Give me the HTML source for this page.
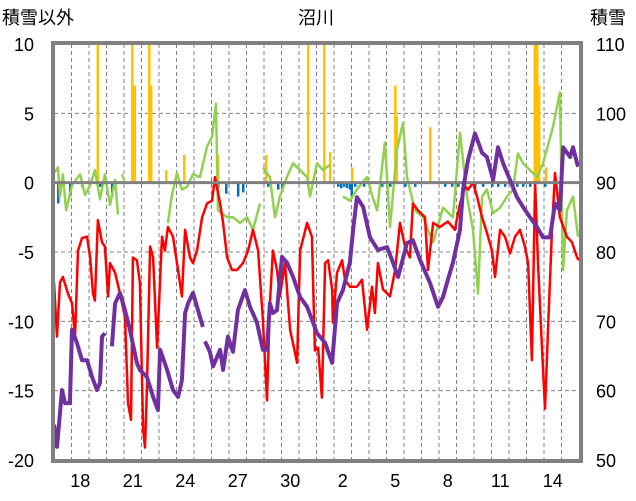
<!DOCTYPE html>
<html><head><meta charset="utf-8"><style>
body{margin:0;background:#fff;}
svg{display:block;font-family:"Liberation Sans","Noto Sans CJK JP",sans-serif;}
</style></head><body>
<svg id="c" width="636" height="501"></svg>
<script>
const xTickLabels=["18","21","24","27","30","2","5","8","11","14"];
const xTickDays=[1,4,7,10,13,16,19,22,25,28];
const leftTicks=[10,5,0,-5,-10,-15,-20];
const rightTicks=[110,100,90,80,70,60,50];
const snowT=[0,.17,.46,.63,.91,1.03,1.31,1.6,1.89,2.17,2.46,2.63,2.74,2.91,3.0,3.31,3.49,3.77,4.06,4.34,4.74,4.91,5.31,5.66,5.94,6.06,6.46,6.8,7.09,7.31,7.49,7.66,7.94,8.23,8.51,8.57,8.63,8.91,9.09,9.49,9.66,9.94,10.23,10.51,10.91,11.2,11.6,11.94,12.17,12.34,12.51,12.74,13.03,13.31,13.66,14.06,14.46,15.03,15.49,15.89,16.17,16.51,16.91,17.09,17.31,17.66,18.06,18.51,19.03,19.31,19.66,20.17,20.51,20.91,21.49,21.94,22.23,22.51,22.8,23.2,23.37,23.66,24.06,24.46,24.74,25.09,25.37,25.66,26.06,26.46,26.8,27.2,27.6,27.94,28.34,28.63,28.91,29.09,29.49,29.66,29.94];
const snowV=[55.1,51.9,60.1,58.2,58.2,68.8,66.9,64.4,64.4,62.0,60.1,61.1,67.8,68.3,null,66.4,72.6,74.1,71.6,68.8,64.0,63.0,62.0,59.1,57.2,65.9,63.0,60.1,59.1,61.5,71.2,72.6,74.1,71.6,69.2,null,67.1,65.6,63.5,65.9,63.0,67.8,65.6,71.6,74.5,72.1,69.8,65.9,65.9,72.6,71.2,71.6,79.3,78.5,76.4,73.5,72.1,68.3,66.9,64.0,72.6,74.5,78.5,83.2,87.9,86.5,82.1,80.3,80.7,78.9,76.4,81.3,81.7,78.9,75.5,72.1,73.5,76.0,78.5,83.2,89.0,93.3,97.1,94.3,93.7,90.4,95.1,92.8,90.4,87.9,86.5,85.0,83.6,82.1,82.1,87.0,86.0,95.1,93.7,95.1,92.3];
const redT=[0,.17,.34,.51,.8,1.03,1.2,1.37,1.6,1.89,2.06,2.23,2.34,2.51,2.74,2.91,3.09,3.2,3.49,3.77,4.06,4.23,4.4,4.51,4.74,4.91,5.09,5.2,5.31,5.49,5.66,5.89,6.17,6.34,6.51,6.8,7.03,7.31,7.49,7.77,7.94,8.17,8.46,8.74,9.03,9.2,9.49,9.66,9.89,10.17,10.46,10.8,11.09,11.37,11.66,11.94,12.17,12.34,12.51,12.74,12.91,13.2,13.49,13.89,14.06,14.46,14.74,14.91,15.09,15.31,15.49,15.66,15.89,15.94,16.17,16.46,16.63,16.91,17.31,17.6,17.89,18.17,18.34,18.51,18.8,19.2,19.49,19.77,20.06,20.34,20.51,20.8,21.2,21.37,21.66,22.06,22.51,22.91,23.2,23.49,23.66,23.94,24.17,24.46,24.74,25.03,25.2,25.49,25.77,26.06,26.34,26.63,26.91,27.09,27.31,27.49,27.66,27.89,28.06,28.23,28.46,28.63,28.91,29.31,29.6,29.89,30.0];
const redV=[-7.2,-11.1,-7.2,-6.8,-8.0,-8.7,-11.1,-4.9,-4.0,-3.9,-5.4,-8.0,-8.5,-2.7,-4.3,-4.6,-8.2,-5.8,-6.5,-8.0,-9.7,-15.9,-17.1,-5.4,-5.6,-7.2,-17.8,-19.1,-14.9,-4.6,-5.4,-11.9,-3.9,-4.9,-3.2,-3.9,-5.8,-8.2,-3.4,-5.4,-5.8,-4.9,-2.5,-1.5,-1.3,0.4,-1.5,-2.9,-5.4,-6.3,-6.3,-5.8,-4.9,-3.4,-4.9,-9.9,-15.7,-8.7,-4.9,-6.3,-8.2,-5.8,-10.6,-13.0,-4.9,-2.9,-3.9,-12.1,-11.9,-15.5,-5.8,-5.6,-7.7,-10.1,-6.5,-5.6,-7.0,-7.5,-7.5,-7.0,-10.6,-7.5,-9.4,-5.8,-7.7,-8.2,-6.3,-2.9,-4.6,-5.4,-1.5,-2.0,-2.5,-6.3,-2.9,-3.2,-2.8,-3.4,-1.5,-0.3,-0.5,0.0,-1.0,-2.5,-3.6,-4.9,-6.8,-3.4,-3.9,-5.1,-3.9,-3.4,-4.6,-5.8,-12.8,0.0,-5.8,-12.1,-16.3,-10.6,-3.4,0.7,-2.5,-3.9,-4.3,-5.4,-5.6];
const greenT=[0,.23,.34,.51,.69,1.03,1.49,1.77,2.06,2.34,2.63,2.91,3.2,3.49,3.66,3.8,3.89,4.0,4.1,6.51,6.74,7.03,7.31,7.6,7.94,8.34,8.74,9.03,9.26,9.37,9.89,10.23,10.63,11.03,11.37,11.77,11.85,11.94,12.34,12.63,12.91,13.31,13.66,14.06,14.46,14.63,15.03,15.37,15.77,15.9,16.51,16.91,17.31,17.89,18.17,18.46,18.91,19.2,19.6,19.94,20.17,20.63,21.09,21.66,22.23,22.8,23.2,23.6,23.94,24.23,24.46,24.74,25.09,25.49,25.89,26.23,26.51,26.8,27.2,27.6,27.94,28.51,28.91,29.09,29.31,29.66,29.94];
const greenV=[0.7,1.1,-1.0,0.6,-2.0,-0.2,0.6,-0.9,-0.2,0.9,-1.2,0.6,-1.6,0.2,-2.3,null,0.6,0.2,null,-2.9,-0.9,0.7,-0.5,-0.3,0.6,0.4,2.6,3.3,5.7,-2.0,-2.5,-2.5,-2.9,-2.5,-3.4,-1.5,null,1.1,0.4,-2.5,-1.0,0.4,1.4,0.9,0.4,-1.0,1.4,0.9,1.3,null,-1.0,-1.3,-0.5,0.4,-0.9,-2.0,2.9,-3.2,2.4,4.3,0.4,-2.0,-2.5,-4.3,-1.8,-2.5,3.6,-1.0,-3.4,-8.0,-1.0,-0.5,-2.2,-1.8,-1.0,-0.5,2.1,1.4,0.9,0.4,1.4,4.0,6.5,-6.3,-2.0,-1.0,-3.9];
const yellowT=[2.49,4.46,4.6,5.43,5.54,6.4,7.43,9.37,12.11,14.51,15.43,15.77,17.03,19.49,19.57,21.49,27.46,27.6,27.71,28.11];
const yellowV=[10,10,7,10,7,0.9,2,2,2,10,10,2.2,1.1,7,4.8,4,10,10,7,1.1];
const blueT=[0.23,0.91,1.6,2.63,3.31,9.37,9.83,10.51,10.8,12.23,12.8,13.03,16.23,16.4,16.57,16.74,16.91,17.0,17.2,17.71,18.74,19.2,20.06,20.63,22.34,22.74,23.09,23.49,24.06,24.51,25.03,25.37,25.77,26.46,26.8,27.2,28.06];
const blueV=[-1.5,-1.0,-0.3,-0.3,-1.0,-0.4,-0.8,-1.0,-0.7,-0.3,-0.5,-0.7,-0.3,-0.4,-0.3,-0.4,-0.5,-1.0,-0.3,-0.3,-0.3,-0.3,-0.3,-0.3,-0.3,-0.3,-0.3,-0.3,-0.4,-0.3,-0.3,-0.3,-0.3,-0.3,-0.3,-0.3,-0.3];

const NS="http://www.w3.org/2000/svg";
const svg=document.getElementById('c');
const X0=54,DAY=17.5,Y0=44,Y1=460;
const xs=t=>X0+t*DAY;
const yl=v=>Y0+(10-v)*(Y1-Y0)/30;
const yr=v=>Y0+(110-v)*(Y1-Y0)/60;
function mk(tag,attrs,parent){const e=document.createElementNS(NS,tag);for(const k in attrs)e.setAttribute(k,attrs[k]);(parent||svg).appendChild(e);return e;}

// grid
for(let d=1;d<30;d++){
  const g=mk('line',{x1:xs(d),x2:xs(d),y1:Y0,y2:Y1,stroke:'#808080','stroke-width':1,'stroke-dasharray':'4,3'});
  
  
}
leftTicks.forEach(v=>{
  if(v!==10&&v!==-20&&v!==0){
    const g=mk('line',{x1:X0,x2:580,y1:yl(v),y2:yl(v),stroke:'#808080','stroke-width':1,'stroke-dasharray':'4,3'});
    
    
  }
  const t=mk('text',{x:34,y:yl(v)+7,'text-anchor':'end','font-size':18,fill:'#000'});
  t.textContent=v;
  
  
});
rightTicks.forEach(v=>{
  const t=mk('text',{x:596,y:yr(v)+7,'font-size':18,fill:'#000'});
  t.textContent=v;
  
  
});
xTickLabels.forEach((l,i)=>{
  const t=mk('text',{x:xs(xTickDays[i]+0.5),y:487,'text-anchor':'middle','font-size':18,fill:'#000'});
  t.textContent=l;
  
  
});
// bars
yellowT.forEach((t,i)=>{
  const y=yl(yellowV[i]);
  const b=mk('rect',{x:xs(t)-1,y:y,width:2.5,height:yl(0)-y,fill:'#FFC000'});
  
  
});
blueT.forEach((t,i)=>{
  const b=mk('rect',{x:xs(t)-1,y:yl(0),width:2.5,height:yl(blueV[i])-yl(0),fill:'#0070C0'});
  
  
});
function path(T,V,ys){let d='',pen=false;T.forEach((t,i)=>{if(V[i]===null){pen=false;return;}d+=(pen?'L':'M')+xs(t).toFixed(1)+','+ys(V[i]).toFixed(1);pen=true;});return d;}
const gl=mk('path',{d:path(greenT,greenV,yl),fill:'none',stroke:'#92D050','stroke-width':2.5,'stroke-linejoin':'round'});


const rl=mk('path',{d:path(redT,redV,yl),fill:'none',stroke:'#FF0000','stroke-width':2.5,'stroke-linejoin':'round'});


const zl=mk('line',{x1:X0,x2:580,y1:yl(0),y2:yl(0),stroke:'#808080','stroke-width':3});


const pl=mk('path',{d:path(snowT,snowV,yr),fill:'none',stroke:'#7030A0','stroke-width':4,'stroke-linejoin':'round'});


const fr=mk('rect',{x:X0-1,y:Y0-1,width:580-X0+2,height:Y1-Y0+2,fill:'none',stroke:'#808080','stroke-width':4});


const tt=mk('text',{x:316,y:24,'text-anchor':'middle','font-size':18});
tt.textContent='沼川';


const la=mk('text',{x:2,y:24,'font-size':18});
la.textContent='積雪以外';


const ra=mk('text',{x:590,y:24,'font-size':18});
ra.textContent='積雪';


</script>
</body></html>
